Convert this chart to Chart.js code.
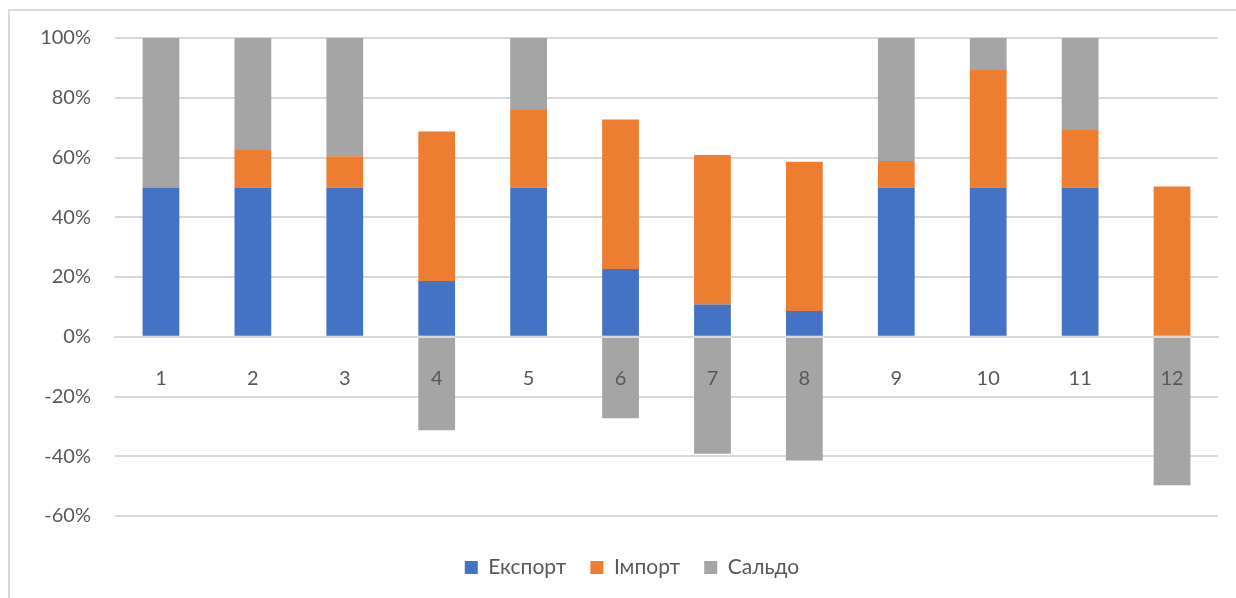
<!DOCTYPE html>
<html>
<head>
<meta charset="utf-8">
<script src="https://cdn.jsdelivr.net/npm/chart.js@4/dist/chart.umd.min.js"></script>
<style>
  html, body { margin: 0; padding: 0; background: #fff; width: 1236px; height: 598px; overflow: hidden; }
  #frame { position: absolute; left: 8px; top: 9px; width: 1240px; height: 600px;
           border-left: 2px solid #d9d9d9; border-top: 2px solid #d9d9d9; background: #fff; }
  #wrap { position: absolute; left: 0; top: 0; width: 1226px; height: 587px; }
</style>
</head>
<body>
<div id="frame"><div id="wrap"><canvas id="c"></canvas></div></div>
<script>
const categories = ['1','2','3','4','5','6','7','8','9','10','11','12'];
const exportShare = [50, 50, 50, 18.7, 50, 22.7, 10.8, 8.6, 50, 50, 50, 0.3];
const importShare = [0, 12.5, 10.4, 50, 25.9, 50, 50, 50, 8.8, 39.3, 19.2, 50];
const saldo       = [50, 37.5, 39.6, -31.3, 24.1, -27.3, -39.2, -41.4, 41.2, 10.7, 30.8, -49.7];
const seriesNames = ['Експорт', 'Імпорт', 'Сальдо'];
const yTicks = { min: -60, max: 100, step: 20 };

const FONT = 'Lato, "Liberation Sans", sans-serif';
const TXT = '#595959';

const legendShift = {
  id: 'legendShift',
  afterLayout(chart) { if (chart.legend) { chart.legend.left += 18; } }
};

new Chart(document.getElementById('c'), {
  type: 'bar',
  data: {
    labels: categories,
    datasets: [
      { label: seriesNames[0], data: exportShare, backgroundColor: '#4472C4' },
      { label: seriesNames[1], data: importShare, backgroundColor: '#ED7D31' },
      { label: seriesNames[2], data: saldo, backgroundColor: '#A5A5A5' }
    ]
  },
  plugins: [legendShift],
  options: {
    responsive: true,
    maintainAspectRatio: false,
    animation: false,
    datasets: { bar: { categoryPercentage: 1, barPercentage: 0.4, borderWidth: 0 } },
    layout: { padding: { top: 27, right: 18, left: 18, bottom: 10 } },
    plugins: {
      tooltip: { enabled: false },
      legend: {
        position: 'bottom',
        title: { display: true, text: '', font: { size: 1, lineHeight: 1 }, padding: { top: 16, bottom: 0 } },
        labels: {
          boxWidth: 13, boxHeight: 13, padding: 24,
          color: TXT,
          font: { family: FONT, size: 21 }
        }
      }
    },
    scales: {
      x: {
        stacked: true,
        position: { y: 0 },
        grid: { display: false, drawTicks: false },
        border: { display: true, color: '#d9d9d9', width: 2, z: 1 },
        ticks: { color: TXT, font: { family: FONT, size: 20 }, padding: 30, maxRotation: 0, z: 1 },
        afterFit: (s) => { s.height = 0; s.paddingTop = 0; s.paddingBottom = 0; }
      },
      y: {
        stacked: true,
        min: yTicks.min, max: yTicks.max,
        grid: { color: '#d9d9d9', lineWidth: 2, drawTicks: false },
        border: { display: false },
        ticks: {
          stepSize: yTicks.step,
          color: TXT, padding: 24,
          font: { family: FONT, size: 20 },
          callback: (v) => v + '%'
        },
        afterFit: (s) => { s.width = 87; s.paddingTop = 8; s.paddingBottom = 8; }
      }
    }
  }
});
</script>
</body>
</html>
